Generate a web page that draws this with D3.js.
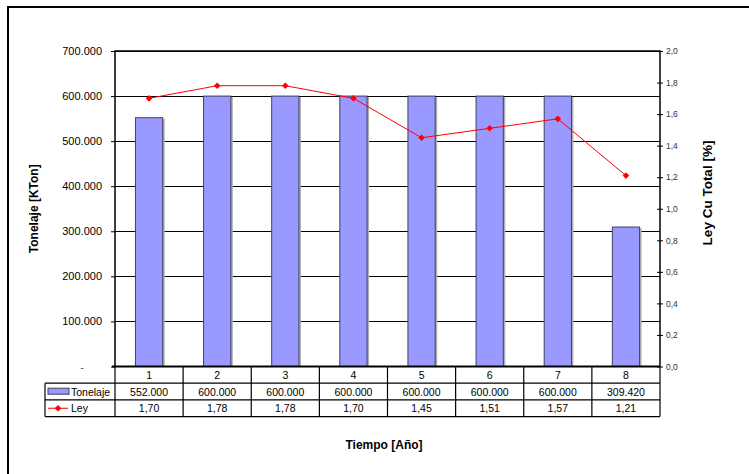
<!DOCTYPE html>
<html>
<head>
<meta charset="utf-8">
<script src="https://cdn.jsdelivr.net/npm/d3@7"></script>
<style>
    body { margin: 0; background: #fff; }
    svg { display: block; font-family: "Liberation Sans", Arial, sans-serif; }
</style>
</head>
<body>
<div id="chart"></div>
<script>
// data
var years = ["1", "2", "3", "4", "5", "6", "7", "8"];
var tonelaje = [552000, 600000, 600000, 600000, 600000, 600000, 600000, 309420];
var ley = [1.70, 1.78, 1.78, 1.70, 1.45, 1.51, 1.57, 1.21];
var leftTicks = [0, 100000, 200000, 300000, 400000, 500000, 600000, 700000];
var rightTicks = [0, 0.2, 0.4, 0.6, 0.8, 1.0, 1.2, 1.4, 1.6, 1.8, 2.0];

(function () {
    "use strict";

    var W = 749, H = 474;
    var plot = { left: 115, right: 660, top: 51, bottom: 366.5 };

    // spanish number formats: "." thousands, "," decimals
    var es = d3.formatLocale({ decimal: ",", thousands: ".", grouping: [3], currency: ["", ""] });
    var fmtTon = es.format(",.0f");
    var fmtLey = es.format(".2f");
    var fmtAxisR = es.format(".1f");

    var svg = d3.select("#chart")
        .append("svg")
        .attr("width", W)
        .attr("height", H);

    // outer chart border (cut off at right/bottom)
    svg.append("rect")
        .attr("x", 8).attr("y", 7)
        .attr("width", 770).attr("height", 490)
        .attr("fill", "none")
        .attr("stroke", "#000")
        .attr("stroke-width", 2);

    var x = d3.scaleBand()
        .domain(years)
        .range([plot.left, plot.right])
        .padding(0);

    var y0 = d3.scaleLinear()
        .domain([0, 700000])
        .range([plot.bottom, plot.top]);

    var y1 = d3.scaleLinear()
        .domain([0, 2])
        .range([plot.bottom, plot.top]);

    // gridlines
    svg.append("g")
        .selectAll("line")
        .data(leftTicks.slice(1))
        .enter()
        .append("line")
        .attr("x1", plot.left).attr("x2", plot.right)
        .attr("y1", function (d) { return Math.round(y0(d)) + 0.5; })
        .attr("y2", function (d) { return Math.round(y0(d)) + 0.5; })
        .attr("stroke", "#000")
        .attr("stroke-width", 1);

    // bars
    var bw = x.bandwidth() * 0.4;
    var bars = svg.append("g");
    bars.selectAll("rect.shadow")
        .data(tonelaje)
        .enter()
        .append("rect")
        .attr("class", "shadow")
        .attr("x", function (d, i) { return x(years[i]) + x.bandwidth() / 2 - bw / 2 + 2; })
        .attr("y", function (d) { return y0(d) + 1; })
        .attr("width", bw)
        .attr("height", function (d) { return plot.bottom - y0(d) - 1; })
        .attr("fill", "#b0b0b0");
    bars.selectAll("rect.bar")
        .data(tonelaje)
        .enter()
        .append("rect")
        .attr("class", "bar")
        .attr("x", function (d, i) { return x(years[i]) + x.bandwidth() / 2 - bw / 2; })
        .attr("y", function (d) { return y0(d); })
        .attr("width", bw)
        .attr("height", function (d) { return plot.bottom - y0(d); })
        .attr("fill", "#9999ff")
        .attr("stroke", "#404060")
        .attr("stroke-width", 1);

    // plot frame: left axis, right axis, top
    svg.append("path")
        .attr("d", "M" + plot.left + "," + plot.bottom + "V" + plot.top + "H" + plot.right + "V" + plot.bottom)
        .attr("fill", "none")
        .attr("stroke", "#000")
        .attr("stroke-width", 1.5);

    // left axis
    var axL = svg.append("g")
        .attr("transform", "translate(" + plot.left + ",0)")
        .call(d3.axisLeft(y0)
            .tickValues(leftTicks)
            .tickSize(4)
            .tickPadding(9)
            .tickFormat(function (d) { return d === 0 ? "-" : fmtTon(d); }));
    axL.select(".domain").remove();
    axL.selectAll("line").attr("stroke", "#000");
    axL.selectAll("text")
        .attr("fill", "#000")
        .style("font-size", "11px")
        .style("font-family", "Liberation Sans, Arial, sans-serif");
    axL.selectAll(".tick")
        .filter(function (d) { return d === 0; })
        .select("text")
        .attr("dx", -18)
        .attr("fill", "#555");

    // right axis with crossing ticks
    var axR = svg.append("g")
        .attr("transform", "translate(" + plot.right + ",0)")
        .call(d3.axisRight(y1)
            .tickValues(rightTicks)
            .tickSize(3)
            .tickPadding(3)
            .tickFormat(fmtAxisR));
    axR.select(".domain").remove();
    axR.selectAll("line").attr("x1", -3).attr("x2", 3).attr("stroke", "#000");
    axR.selectAll("text")
        .attr("fill", "#333")
        .style("font-size", "8.5px")
        .style("font-family", "Liberation Sans, Arial, sans-serif");

    // Ley line
    var line = d3.line()
        .x(function (d, i) { return x(years[i]) + x.bandwidth() / 2; })
        .y(function (d) { return y1(d); });

    svg.append("path")
        .datum(ley)
        .attr("d", line)
        .attr("fill", "none")
        .attr("stroke", "#ff0000")
        .attr("stroke-width", 1);

    // square turned 45 degrees = Excel diamond marker
    var diamond = d3.symbol().type(d3.symbolSquare).size(22);
    svg.append("g")
        .selectAll("path")
        .data(ley)
        .enter()
        .append("path")
        .attr("d", diamond)
        .attr("transform", function (d, i) {
            return "translate(" + (x(years[i]) + x.bandwidth() / 2) + "," + y1(d) + ") rotate(45)";
        })
        .attr("fill", "#ff0000");

    // data table under the plot
    var rowTop = plot.bottom, rowH = 16.7;
    var tableLeft = 45;
    var t = svg.append("g");

    // x axis line (thick)
    t.append("line")
        .attr("x1", plot.left - 3).attr("x2", plot.right)
        .attr("y1", rowTop).attr("y2", rowTop)
        .attr("stroke", "#000").attr("stroke-width", 2);

    // horizontal lines
    [1, 2, 3].forEach(function (r) {
        t.append("line")
            .attr("x1", tableLeft).attr("x2", plot.right)
            .attr("y1", rowTop + r * rowH).attr("y2", rowTop + r * rowH)
            .attr("stroke", "#000").attr("stroke-width", 1.2);
    });

    // vertical lines
    var vx = years.map(function (d) { return x(d); }).concat([plot.right]);
    t.selectAll("line.v")
        .data(vx)
        .enter()
        .append("line")
        .attr("class", "v")
        .attr("x1", function (d) { return d; }).attr("x2", function (d) { return d; })
        .attr("y1", rowTop).attr("y2", rowTop + 3 * rowH)
        .attr("stroke", "#000").attr("stroke-width", 1.2);
    t.append("line")
        .attr("x1", tableLeft).attr("x2", tableLeft)
        .attr("y1", rowTop + rowH).attr("y2", rowTop + 3 * rowH)
        .attr("stroke", "#000").attr("stroke-width", 1.2);

    var cellText = function (row, values, fmt) {
        t.selectAll("text.r" + row)
            .data(values)
            .enter()
            .append("text")
            .attr("class", "r" + row)
            .attr("x", function (d, i) { return x(years[i]) + x.bandwidth() / 2; })
            .attr("y", rowTop + row * rowH + rowH / 2 + 4)
            .attr("text-anchor", "middle")
            .style("font-size", "10.5px")
            .text(fmt);
    };
    cellText(0, years, function (d) { return d; });
    cellText(1, tonelaje, fmtTon);
    cellText(2, ley, fmtLey);

    // legend keys inside the table
    t.append("rect")
        .attr("x", 48).attr("y", rowTop + rowH + 5)
        .attr("width", 21).attr("height", 6)
        .attr("fill", "#9999ff")
        .attr("stroke", "#404060");
    t.append("text")
        .attr("x", 71).attr("y", rowTop + rowH * 1.5 + 4)
        .style("font-size", "10.5px")
        .text("Tonelaje");
    t.append("line")
        .attr("x1", 48).attr("x2", 68)
        .attr("y1", rowTop + rowH * 2.5).attr("y2", rowTop + rowH * 2.5)
        .attr("stroke", "#ff0000");
    t.append("path")
        .attr("d", diamond)
        .attr("transform", "translate(58," + (rowTop + rowH * 2.5) + ") rotate(45)")
        .attr("fill", "#ff0000");
    t.append("text")
        .attr("x", 71).attr("y", rowTop + rowH * 2.5 + 4)
        .style("font-size", "10.5px")
        .text("Ley");

    // axis titles
    svg.append("text")
        .attr("transform", "translate(38," + ((plot.top + plot.bottom) / 2) + ") rotate(-90)")
        .attr("text-anchor", "middle")
        .style("font-size", "12px")
        .style("font-weight", "bold")
        .text("Tonelaje [KTon]");

    svg.append("text")
        .attr("transform", "translate(712,193) rotate(-90)")
        .attr("text-anchor", "middle")
        .style("font-size", "13.5px")
        .style("font-weight", "bold")
        .text("Ley Cu Total [%]");

    svg.append("text")
        .attr("x", 384).attr("y", 449)
        .attr("text-anchor", "middle")
        .style("font-size", "12px")
        .style("font-weight", "bold")
        .text("Tiempo [Año]");
})();
</script>
</body>
</html>
